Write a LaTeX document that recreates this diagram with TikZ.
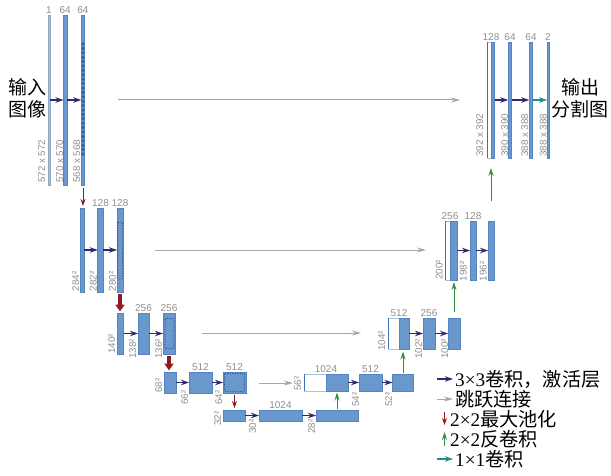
\documentclass[tikz,border=0pt]{standalone}
\usepackage{fontspec}
\setmainfont{Liberation Serif}
\newfontfamily\cjk{Noto Sans CJK SC}
\newfontfamily\labf{Liberation Sans}
\usetikzlibrary{arrows.meta}
\definecolor{barfill}{HTML}{6A98CD}
\definecolor{bardraw}{HTML}{5585C0}
\definecolor{lightbar}{HTML}{A9C3E3}
\definecolor{copyedge}{HTML}{3F6FB5}
\definecolor{navyarr}{HTML}{2B2A6B}
\definecolor{dotcol}{HTML}{2A4F8F}
\definecolor{poolred}{HTML}{8E1B1F}
\definecolor{upgreen}{HTML}{2F8F3F}
\definecolor{tealarr}{HTML}{1C8F8C}
\definecolor{skipgrey}{HTML}{A6A6A6}
\definecolor{labgrey}{HTML}{8F8F8F}
\begin{document}
\begin{tikzpicture}[x=1pt,y=-1pt,
  bar/.style 2 args={draw=bardraw, fill=barfill, line width=0.6pt, inner sep=0pt, outer sep=0pt, minimum width=#1, minimum height=#2},
  thinbar/.style 2 args={draw=lightbar!85!black, fill=lightbar, line width=0.5pt, inner sep=0pt, outer sep=0pt, minimum width=#1, minimum height=#2},
  copybar/.style 2 args={draw=lightbar, fill=white, line width=0.8pt, inner sep=0pt, outer sep=0pt, minimum width=#1, minimum height=#2},
  conv/.style={draw=navyarr, line width=1.3pt, -{Stealth[length=8pt, width=5.5pt]}},
  conv1/.style={draw=tealarr, line width=1.3pt, -{Stealth[length=8pt, width=5.5pt]}},
  skip/.style={draw=skipgrey, line width=1pt, -{Stealth[length=9pt, width=5pt]}},
  pool/.style={draw=poolred, line width=1pt, -{Stealth[length=7pt, width=5pt]}},
  poolthick/.style={draw=poolred, line width=3.6pt, -{Triangle[length=7pt, width=9pt]}},
  upconv/.style={draw=upgreen, line width=1pt, -{Stealth[length=8pt, width=5pt]}},
  toplab/.style={text=labgrey, font=\labf\fontsize{10}{12}\selectfont, inner sep=0pt, anchor=base},
  sidelab/.style={text=labgrey, font=\labf\fontsize{9.8}{12}\selectfont, inner sep=0pt, rotate=90, anchor=south west},
  dotbox/.style={draw=dotcol, line width=1.3pt, dash pattern=on 0pt off 2.5pt, line cap=round, rounded corners=1pt},
  legtext/.style={anchor=west, inner sep=0pt, font=\fontsize{19.2}{21}\selectfont},
  bigtext/.style={align=center, inner sep=0pt, font=\cjk\fontsize{19}{22}\selectfont}
]
\useasboundingbox (0,0) rectangle (611,476);

% ---------- level 1 (left) ----------
\node[thinbar={2.5}{170}] (L1a) at (49,100) {};
\node[bar={3.5}{170}] (L1b) at (65.25,100) {};
\node[bar={3.5}{170}] (L1c) at (83,100) {};
\draw[dotcol!75!barfill, line width=3.8pt, dash pattern=on 0pt off 4.4pt, line cap=round] (83,44) -- (83,157);
\node[toplab] (tL1a) at ([yshift=1.5pt]L1a.north) {1};
\node[toplab] (tL1b) at ([yshift=1.5pt]L1b.north) {64};
\node[toplab] (tL1c) at ([yshift=1.5pt]L1c.north) {64};
\node[sidelab] (sL1a) at (45.5,183) {572 x 572};
\node[sidelab] (sL1b) at (63.5,183) {570 x 570};
\node[sidelab] (sL1c) at (80.5,183) {568 x 568};
\draw[conv] (L1a.east) -- (L1b.west);
\draw[conv] (L1b.east) -- (L1c.west);
\node[bigtext] (inp) at (27.5,98) {输入\\图像};

% ---------- level 1 (right) ----------
\node[copybar={4}{116}] (R1a) at (489,100) {};
\draw[copyedge, line width=0.8pt] (R1a.north west) -- (R1a.south west);
\node[bar={3.5}{116}] (R1ad) at (492.75,100) {};
\node[bar={3.5}{116}] (R1b) at (510,100) {};
\node[bar={3.5}{116}] (R1c) at (531,100) {};
\node[bar={2}{116}] (R1d) at (548,100) {};
\node[toplab] (tR1a) at ([yshift=1.5pt]R1a.north east) {128};
\node[toplab] (tR1b) at ([yshift=1.5pt]R1b.north) {64};
\node[toplab] (tR1c) at ([yshift=1.5pt]R1c.north) {64};
\node[toplab] (tR1d) at ([yshift=1.5pt]R1d.north) {2};
\node[sidelab] (sR1a) at (483.5,157) {392 x 392};
\node[sidelab] (sR1b) at (508.5,157) {390 x 390};
\node[sidelab] (sR1c) at (528.5,157) {388 x 388};
\node[sidelab] (sR1d) at (547,157) {388 x 388};
\draw[conv] (R1ad.east) -- (R1b.west);
\draw[conv] (R1b.east) -- (R1c.west);
\draw[conv1] (R1c.east) -- (R1d.west);
\node[bigtext] (outp) at (580,98) {输出\\分割图};

% ---------- level 2 ----------
\node[bar={3.5}{84}] (L2a) at (82.5,250) {};
\node[bar={5.5}{84}] (L2b) at (100.5,250) {};
\node[bar={6}{84}] (L2c) at (120,250) {};
\draw[dotbox] (117.6,222) rectangle (122.4,279);
\node[toplab] (tL2b) at ([yshift=1.5pt]L2b.north) {128};
\node[toplab] (tL2c) at ([yshift=1.5pt]L2c.north) {128};
\node[sidelab] (sL2a) at (79.5,291.5) {284²};
\node[sidelab] (sL2b) at (96.8,291.5) {282²};
\node[sidelab] (sL2c) at (116.2,291.5) {280²};
\draw[conv] (L2a.east) -- (L2b.west);
\draw[conv] (L2b.east) -- (L2c.west);

\node[copybar={5}{59}] (R2a) at (447.5,250.5) {};
\draw[copyedge, line width=0.8pt] (R2a.north west) -- (R2a.south west);
\node[bar={7}{59}] (R2ad) at (453.5,250.5) {};
\node[bar={6}{59}] (R2b) at (473,250.5) {};
\node[bar={6}{59}] (R2c) at (491,250.5) {};
\node[toplab] (tR2a) at ([yshift=1.5pt]R2a.north east) {256};
\node[toplab] (tR2b) at ([yshift=1.5pt]R2b.north) {128};
\node[sidelab] (sR2a) at (442.8,280) {200²};
\node[sidelab] (sR2b) at (466.8,281.5) {198²};
\node[sidelab] (sR2c) at (486.8,281.5) {196²};
\draw[conv] (R2ad.east) -- (R2b.west);
\draw[conv] (R2b.east) -- (R2c.west);

% ---------- level 3 ----------
\node[bar={6}{41}] (L3a) at (120.5,333.5) {};
\node[bar={11}{41}] (L3b) at (143.5,333.5) {};
\node[bar={12}{41}] (L3c) at (169,333.5) {};
\draw[dotbox] (165,318.5) rectangle (174,348.5);
\node[toplab] (tL3b) at ([yshift=1.5pt]L3b.north) {256};
\node[toplab] (tL3c) at ([yshift=1.5pt]L3c.north) {256};
\node[sidelab] (sL3a) at (115.3,354) {140²};
\node[sidelab] (sL3b) at (136.5,359) {138²};
\node[sidelab] (sL3c) at (162.5,359) {136²};
\draw[conv] (L3a.east) -- (L3b.west);
\draw[conv] (L3b.east) -- (L3c.west);

\node[copybar={11}{31}] (R3a) at (393.5,333.5) {};
\draw[copyedge, line width=0.8pt] (R3a.north west) -- (R3a.south west);
\node[bar={10}{31}] (R3ad) at (404,333.5) {};
\node[bar={12}{31}] (R3b) at (429,333.5) {};
\node[bar={12}{31}] (R3c) at (454,333.5) {};
\node[toplab] (tR3a) at ([yshift=1.5pt]R3a.north east) {512};
\node[toplab] (tR3b) at ([yshift=1.5pt]R3b.north) {256};
\node[sidelab] (sR3a) at (385.5,351) {104²};
\node[sidelab] (sR3b) at (422.5,359) {102²};
\node[sidelab] (sR3c) at (448.5,359) {100²};
\draw[conv] (R3ad.east) -- (R3b.west);
\draw[conv] (R3b.east) -- (R3c.west);

% ---------- level 4 ----------
\node[bar={12}{21}] (L4a) at (170,382.5) {};
\node[bar={23}{21}] (L4b) at (200.5,382.5) {};
\node[bar={23}{21}] (L4c) at (234.5,382.5) {};
\draw[dotbox] (224.5,373.5) rectangle (244.5,391.5);
\node[toplab] (tL4b) at ([yshift=1.5pt]L4b.north) {512};
\node[toplab] (tL4c) at ([yshift=1.5pt]L4c.north) {512};
\node[sidelab] (sL4a) at (162.5,393) {68²};
\node[sidelab] (sL4b) at (188.5,405) {66²};
\node[sidelab] (sL4c) at (222.5,405) {64²};
\draw[conv] (L4a.east) -- (L4b.west);
\draw[conv] (L4b.east) -- (L4c.west);

\node[copybar={22}{17}] (R4a) at (315,382.5) {};
\draw[copyedge, line width=0.8pt] (R4a.north west) -- (R4a.south west);
\node[bar={22}{17}] (R4ad) at (337,382.5) {};
\node[bar={23}{17}] (R4b) at (370.5,382.5) {};
\node[bar={21}{17}] (R4c) at (403,382.5) {};
\node[toplab] (tR4a) at ([yshift=1.5pt]R4a.north east) {1024};
\node[toplab] (tR4b) at ([yshift=1.5pt]R4b.north) {512};
\node[sidelab] (sR4a) at (301.5,391) {56²};
\node[sidelab] (sR4b) at (359.5,407) {54²};
\node[sidelab] (sR4c) at (392.5,407) {52²};
\draw[conv] (R4ad.east) -- (R4b.west);
\draw[conv] (R4b.east) -- (R4c.west);

% ---------- level 5 ----------
\node[bar={22}{11}] (L5a) at (234,415.5) {};
\node[bar={43}{11}] (L5b) at (280.5,415.5) {};
\node[bar={42}{11}] (L5c) at (337,415.5) {};
\node[toplab] (tL5b) at ([yshift=1.5pt]L5b.north) {1024};
\node[sidelab] (sL5a) at (221.5,426) {32²};
\node[sidelab] (sL5b) at (256.5,434) {30²};
\node[sidelab] (sL5c) at (315.5,434) {28²};
\draw[conv] (L5a.east) -- (L5b.west);
\draw[conv] (L5b.east) -- (L5c.west);

% ---------- pooling ----------
\draw[pool] ([yshift=-3pt]L1c.south) -- ([yshift=2pt]L1c.south |- L2a.north);
\draw[poolthick] ([yshift=-2pt]L2c.south) -- ([yshift=1.5pt]L2c.south |- L3a.north);
\draw[poolthick] ([yshift=-1.5pt]L3c.south) -- ([yshift=1.5pt]L3c.south |- L4a.north);
\draw[pool] ([yshift=-1.5pt]L4c.south) -- ([yshift=2pt]L4c.south |- L5a.north);

% ---------- up-convolutions ----------
\draw[upconv] ([yshift=1.5pt]L5c.north) -- ([yshift=-1.5pt]L5c.north |- R4ad.south);
\draw[upconv] ([yshift=1.5pt]R4c.north) -- ([yshift=-2.5pt]R4c.north |- R3ad.south);
\draw[upconv] ([yshift=6pt]R3c.north) -- ([yshift=-2pt]R3c.north |- R2ad.south);
\draw[upconv] ([yshift=20pt]R2c.north) -- ([yshift=-10pt]R2c.north |- R1ad.south);

% ---------- skip connections ----------
\coordinate (sk1s) at (118,100); \coordinate (sk1e) at (460,100);
\coordinate (sk2s) at (155,250); \coordinate (sk2e) at (426,250);
\coordinate (sk3s) at (202,333); \coordinate (sk3e) at (361,333);
\coordinate (sk4s) at (259,383); \coordinate (sk4e) at (293,383);
\draw[skip] (sk1s) -- (sk1e);
\draw[skip] (sk2s) -- (sk2e);
\draw[skip] (sk3s) -- (sk3e);
\draw[skip] (sk4s) -- (sk4e);

% ---------- legend ----------
\coordinate (lg1s) at (437,379); \coordinate (lg1e) at (453,379);
\coordinate (lg2s) at (437,399); \coordinate (lg2e) at (453,399);
\coordinate (lg3s) at (444.5,412); \coordinate (lg3e) at (444.5,425);
\coordinate (lg4s) at (444.5,446); \coordinate (lg4e) at (444.5,432);
\coordinate (lg5s) at (437,459); \coordinate (lg5e) at (453,459);
\draw[conv] (lg1s) -- (lg1e);
\draw[skip] (lg2s) -- (lg2e);
\draw[pool] (lg3s) -- (lg3e);
\draw[upconv] (lg4s) -- (lg4e);
\draw[conv1] (lg5s) -- (lg5e);
\node[legtext] (lt1) at (455,379) {3×3{\cjk 卷积，激活层}};
\node[legtext] (lt2) at (455,399.5) {\cjk 跳跃连接};
\node[legtext] (lt3) at (450,419) {2×2{\cjk 最大池化}};
\node[legtext] (lt4) at (450,439) {2×2{\cjk 反卷积}};
\node[legtext] (lt5) at (455,459) {1×1{\cjk 卷积}};
\end{tikzpicture}
\end{document}
